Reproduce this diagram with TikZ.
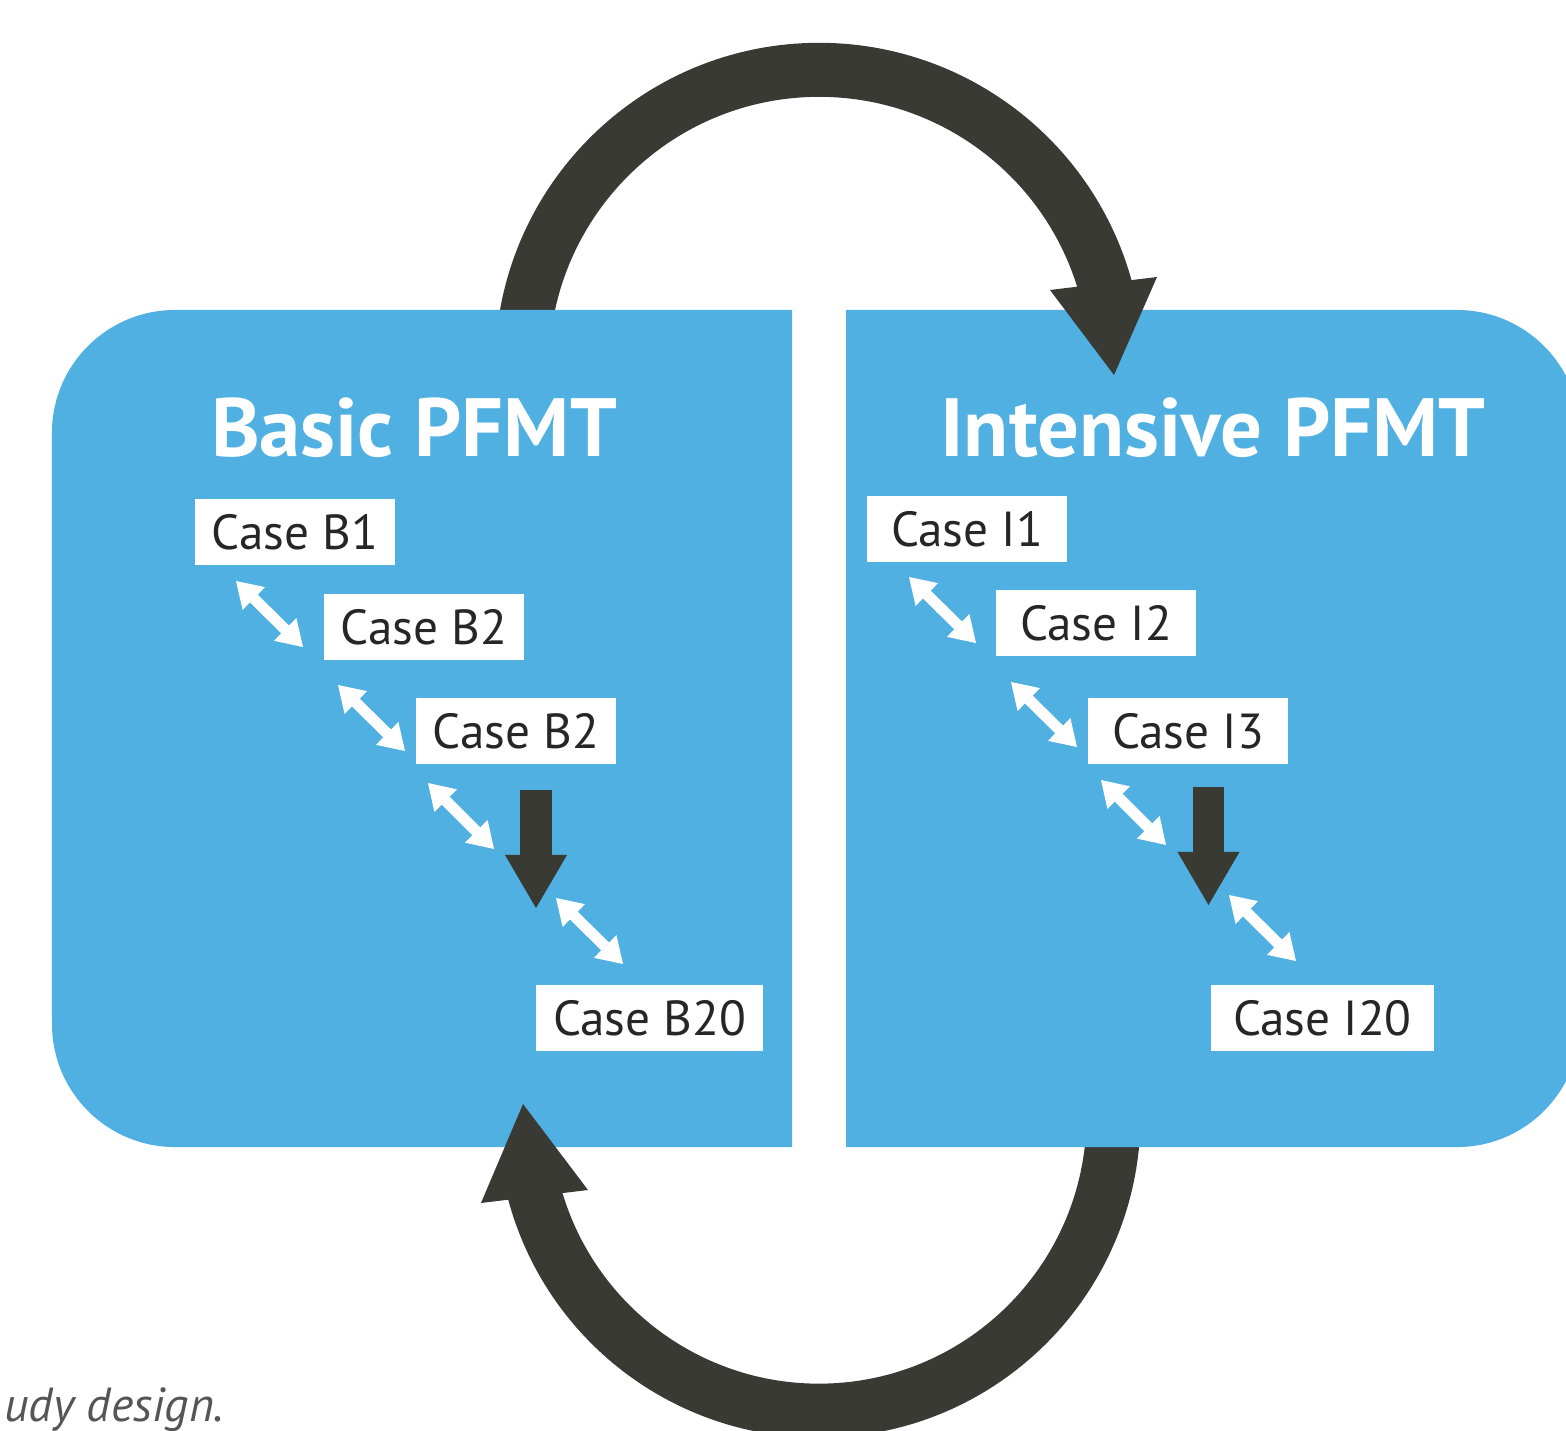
\documentclass[tikz,border=0pt]{standalone}
\usepackage{fontspec}
\setmainfont{PT Sans}
\usepackage{tikz}
\usetikzlibrary{arrows.meta}
\definecolor{pfmt-blue}{RGB}{80,176,225}
\definecolor{pfmt-dark}{RGB}{58,58,52}
\definecolor{caption-grey}{RGB}{85,85,85}

\begin{document}
\begin{tikzpicture}[
    x=0.01cm, y=-0.01cm,
    panel/.style={fill=pfmt-blue},
    paneltitle/.style={text=white, anchor=base, font=\fontsize{23.5}{26}\selectfont\bfseries},
    casebox/.style={rectangle, fill=white, minimum width=2cm, minimum height=0.66cm, inner xsep=0.17cm, text=black!85, font=\fontsize{14}{16}\selectfont},
    swaparrow/.style={{Triangle[width=0.32cm, length=0.25cm, line width=0pt]}-{Triangle[width=0.32cm, length=0.25cm, line width=0pt]}, draw=white, line width=0.11cm},
    moredown/.style={-{Triangle[width=0.62cm, length=0.53cm, line width=0pt]}, draw=pfmt-dark, line width=0.31cm},
    loopshaft/.style={draw=pfmt-dark, line width=0.54cm},
    loophead/.style={fill=pfmt-dark}
]
\useasboundingbox (0,0) rectangle (1566,1431);

% Cycle arrows (shafts go under the panels)
\draw[loopshaft] (522,367) arc[start angle=180, end angle=15, radius=2.97cm];
\draw[loopshaft] (1113.5,1116) arc[start angle=0, end angle=-165, radius=2.945cm];

% Panels
\fill[panel] (792,310) -- (175,310) arc[start angle=90, end angle=180, radius=1.23cm]
    -- (52,1024) arc[start angle=180, end angle=270, radius=1.23cm] -- (792,1147) -- cycle;
\fill[panel] (846,310) -- (1457,310) arc[start angle=90, end angle=0, radius=1.23cm]
    -- (1580,1024) arc[start angle=0, end angle=-90, radius=1.23cm] -- (846,1147) -- cycle;

% Arrow heads on top of the panels
\fill[loophead] (1050,290) -- (1157,277) -- (1114,375) -- cycle;
\fill[loophead] (481,1203) -- (588,1190) -- (523,1104) -- cycle;

% Titles
\node[paneltitle] (basic) at (414,457) {Basic PFMT};
\node[paneltitle] (intensive) at (1213,457) {Intensive PFMT};

% Basic cases
\node[casebox] (b1) at (295,532) {Case B1};
\node[casebox] (b2) at (424,627) {Case B2};
\node[casebox] (b3) at (516,731) {Case B2};
\node[casebox, minimum width=2.23cm] (b20) at (649.5,1018) {Case B20};

% Intensive cases
\node[casebox] (i1) at (967,529) {Case I1};
\node[casebox] (i2) at (1096,623) {Case I2};
\node[casebox] (i3) at (1188,731) {Case I3};
\node[casebox, minimum width=2.23cm] (i20) at (1322.5,1018) {Case I20};

% Swap arrow ends
\coordinate (b12a) at (236,581);  \coordinate (b12b) at (303,647);
\coordinate (b23a) at (338,685);  \coordinate (b23b) at (405,751);
\coordinate (b3xa) at (428,783);  \coordinate (b3xb) at (494,849);
\coordinate (bx20a) at (556,898); \coordinate (bx20b) at (623,964);
\coordinate (i12a) at (909,577);  \coordinate (i12b) at (976,643);
\coordinate (i23a) at (1011,682); \coordinate (i23b) at (1077,747);
\coordinate (i3xa) at (1101,780); \coordinate (i3xb) at (1166,845);
\coordinate (ix20a) at (1229,895); \coordinate (ix20b) at (1296,961);

% Swap arrows
\draw[swaparrow] (b12a) -- (b12b);
\draw[swaparrow] (b23a) -- (b23b);
\draw[swaparrow] (b3xa) -- (b3xb);
\draw[swaparrow] (bx20a) -- (bx20b);
\draw[swaparrow] (i12a) -- (i12b);
\draw[swaparrow] (i23a) -- (i23b);
\draw[swaparrow] (i3xa) -- (i3xb);
\draw[swaparrow] (ix20a) -- (ix20b);

% Continuation arrows
\coordinate (bgap) at (536,790);    \coordinate (bgapend) at (536,908);
\coordinate (igap) at (1208.5,787); \coordinate (igapend) at (1208.5,905);
\draw[moredown] (bgap) -- (bgapend);
\draw[moredown] (igap) -- (igapend);

% Caption fragment
\node[anchor=base west, text=caption-grey, font=\fontsize{13.6}{15}\selectfont\itshape] (caption) at (-8,1421) {udy design.};

\end{tikzpicture}
\end{document}
